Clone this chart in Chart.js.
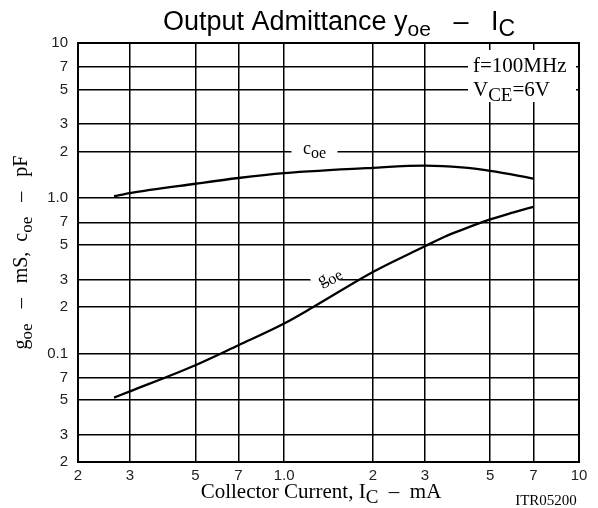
<!DOCTYPE html>
<html><head><meta charset="utf-8">
<script src="https://cdn.jsdelivr.net/npm/chart.js@4/dist/chart.umd.min.js"></script>
<style>html,body{margin:0;padding:0;background:#fff}#wrap{width:598px;height:508px}</style>
</head><body><div id="wrap"><canvas id="c" width="598" height="508"></canvas></div>
<script>
// Collector current (mA)
const coeCurrent = [0.265, 0.3, 0.5, 0.7, 1.0, 2, 3, 4, 5, 7];
const coeValues  = [1.03, 1.08, 1.24, 1.35, 1.45, 1.57, 1.62, 1.58, 1.50, 1.34];
const goeCurrent = [0.265, 0.3, 0.5, 0.7, 1.0, 1.26, 2, 3, 3.5, 4, 5, 6, 7];
const goeValues  = [0.052, 0.057, 0.084, 0.113, 0.156, 0.2, 0.335, 0.49, 0.565, 0.625, 0.73, 0.81, 0.88];
const xTicks = [0.2, 0.3, 0.5, 0.7, 1, 2, 3, 5, 7, 10];
const xTickLabels = ['2','3','5','7','1.0','2','3','5','7','10'];
const yTicks = [0.02,0.03,0.05,0.07,0.1,0.2,0.3,0.5,0.7,1,2,3,5,7,10];
const yTickLabels = ['2','3','5','7','0.1','2','3','5','7','1.0','2','3','5','7','10'];

const SANS = '"Liberation Sans", Arial, sans-serif';
const SERIF = '"Liberation Serif", "Times New Roman", serif';

function rich(ctx, parts, x, y, align) {
  let w = 0;
  parts.forEach(p => { ctx.font = p.f; w += ctx.measureText(p.t).width; });
  let cx = align === 'center' ? x - w/2 : (align === 'right' ? x - w : x);
  ctx.textAlign = 'left'; ctx.textBaseline = 'alphabetic';
  parts.forEach(p => { ctx.font = p.f; ctx.fillText(p.t, cx, y + (p.dy||0)); cx += ctx.measureText(p.t).width; });
  return w;
}

const textPlugin = {
  id: 'texts',
  afterDraw(chart) {
    const ctx = chart.ctx, xs = chart.scales.x, ys = chart.scales.y;
    ctx.save();
    ctx.fillStyle = '#000';
    // Title
    rich(ctx, [
      {t:'Output Admittance y', f:'27px '+SANS},
      {t:'oe', f:'21px '+SANS, dy:6},
      {t:'   \u2013   I', f:'27px '+SANS},
      {t:'C', f:'23px '+SANS, dy:6}
    ], 339, 30, 'center');
    // X title
    rich(ctx, [
      {t:'Collector Current, I', f:'21px '+SERIF},
      {t:'C', f:'19px '+SERIF, dy:5},
      {t:'  \u2013  mA', f:'21px '+SERIF}
    ], 321, 498, 'center');
    ctx.font = '15px '+SERIF; ctx.textAlign='center';
    ctx.fillText('ITR05200', 546, 505);
    // Y title rotated
    ctx.save();
    ctx.translate(27, (chart.chartArea.top+chart.chartArea.bottom)/2);
    ctx.rotate(-Math.PI/2);
    rich(ctx, [
      {t:'g', f:'20px '+SERIF},
      {t:'oe', f:'17px '+SERIF, dy:5},
      {t:'   \u2013   mS,  c', f:'20px '+SERIF},
      {t:'oe', f:'17px '+SERIF, dy:5},
      {t:'   \u2013   pF', f:'20px '+SERIF}
    ], 0, 0, 'center');
    ctx.restore();
    // coe label
    let px = xs.getPixelForValue(1.2), py = ys.getPixelForValue(2);
    ctx.fillStyle = '#fff'; ctx.fillRect(px-16, py-4, 46, 8);
    ctx.fillStyle = '#000';
    rich(ctx, [{t:'c', f:'18px '+SERIF},{t:'oe', f:'16px '+SERIF, dy:4}], px+7, py+2, 'center');
    // goe label rotated
    px = xs.getPixelForValue(1.42); py = ys.getPixelForValue(0.3);
    ctx.save();
    ctx.translate(px+2, py);
    ctx.rotate(-0.52);
    ctx.fillStyle = '#fff'; ctx.fillRect(-18, -11, 36, 16);
    ctx.fillStyle = '#000';
    rich(ctx, [{t:'g', f:'18px '+SERIF},{t:'oe', f:'16px '+SERIF, dy:4}], 0, 1, 'center');
    ctx.restore();
    // Conditions box
    const ca = chart.chartArea;
    ctx.fillStyle = '#fff'; ctx.fillRect(468, 50, ca.right-3-468, 52);
    ctx.fillStyle = '#000';
    const y7 = ys.getPixelForValue(7), y5 = ys.getPixelForValue(5);
    rich(ctx, [{t:'f=100MHz', f:'21px '+SERIF}], 473, y7+5, 'left');
    rich(ctx, [{t:'V', f:'21px '+SERIF},{t:'CE', f:'19px '+SERIF, dy:5},{t:'=6V', f:'21px '+SERIF}], 473, y5+6, 'left');
    ctx.restore();
  }
};

const ds = (xv, yv) => xv.map((x, i) => ({x, y: yv[i]}));

new Chart(document.getElementById('c'), {
  type: 'line',
  data: {
    datasets: [
      {label:'coe', data: ds(coeCurrent, coeValues), borderColor:'#000', borderWidth:2.3, pointRadius:0, cubicInterpolationMode:'monotone', fill:false},
      {label:'goe', data: ds(goeCurrent, goeValues), borderColor:'#000', borderWidth:2.3, pointRadius:0, cubicInterpolationMode:'monotone', fill:false}
    ]
  },
  options: {
    responsive: false, animation: false, devicePixelRatio: 1,
    layout: { padding: { left: 0, top: 43, right: 19, bottom: 0 } },
    plugins: { legend: {display:false}, title:{display:false}, tooltip:{enabled:false} },
    scales: {
      x: {
        type: 'logarithmic', min: 0.2, max: 10,
        afterBuildTicks: s => { s.ticks = xTicks.map(v => ({value:v})); },
        afterFit: s => { s.height = 46; },
        ticks: { autoSkip:false, maxRotation:0, padding:5, color:'#222', font:{family:SANS, size:15},
          callback: (v, i) => xTickLabels[i] },
        grid: { color:'#000', lineWidth:1.5, drawTicks:false },
        border: { color:'#000', width:2 }
      },
      y: {
        type: 'logarithmic', min: 0.02, max: 10,
        afterBuildTicks: s => { s.ticks = yTicks.map(v => ({value:v})); },
        afterFit: s => { s.width = 78; },
        ticks: { autoSkip:false, padding:10, color:'#222', font:{family:SANS, size:15},
          callback: (v, i) => yTickLabels[i] },
        grid: { color:'#000', lineWidth:1.5, drawTicks:false },
        border: { color:'#000', width:2 }
      }
    }
  },
  plugins: [textPlugin, {
    id:'frame',
    afterDraw(chart){
      const {ctx, chartArea:a} = chart;
      ctx.save(); ctx.strokeStyle='#000'; ctx.lineWidth=2;
      ctx.strokeRect(a.left, a.top, a.right-a.left, a.bottom-a.top);
      ctx.restore();
    }
  }]
});
</script>
</body></html>
